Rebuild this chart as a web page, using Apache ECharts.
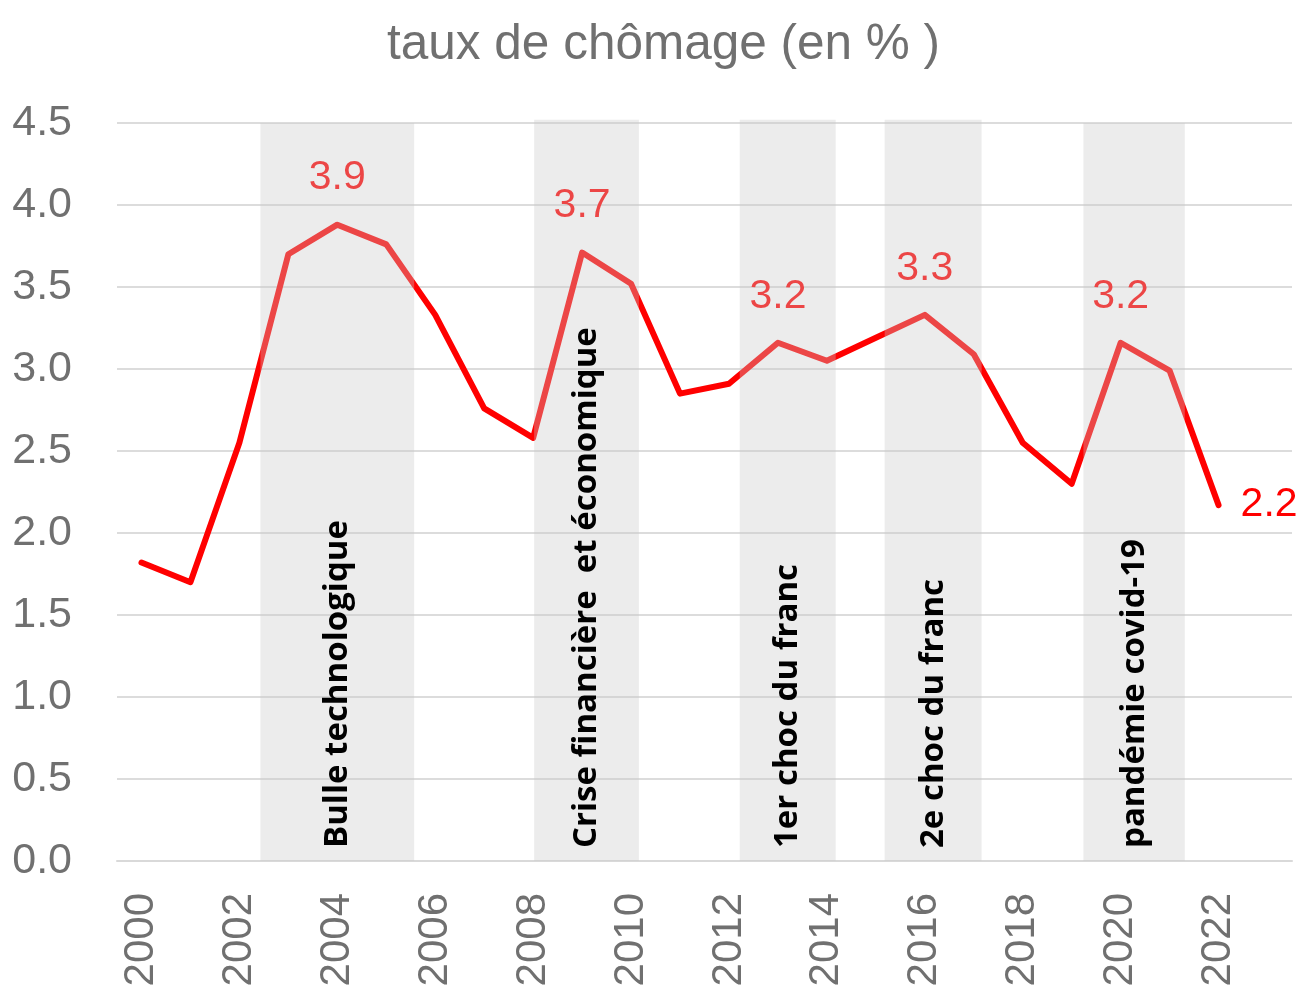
<!DOCTYPE html>
<html>
<head>
<meta charset="utf-8">
<script src="https://cdn.jsdelivr.net/npm/echarts@6/dist/echarts.min.js"></script>
<style>
html,body{margin:0;padding:0;background:#fff;overflow:hidden;}
#chart{width:1303px;height:991px;}
</style>
</head>
<body>
<div id="chart"></div>
<script>
const titleText = 'taux de chômage (en % )';
const years = ['2000','2001','2002','2003','2004','2005','2006','2007','2008','2009','2010','2011',
               '2012','2013','2014','2015','2016','2017','2018','2019','2020','2021','2022','2023'];
const rate = [1.82,1.70,2.55,3.70,3.88,3.76,3.33,2.76,2.58,3.71,3.52,2.85,
              2.91,3.16,3.05,3.19,3.33,3.09,2.55,2.30,3.16,2.99,2.17,null];
const labelledYears = ['2004','2009','2013','2016','2020','2022'];
const yMin = 0, yMax = 4.5, yStep = 0.5;
const bandStart = [2002.43, 2008.02, 2012.22, 2015.18, 2019.24];
const bandEnd   = [2005.57, 2010.16, 2014.18, 2017.16, 2021.31];
const bandTop   = [4.5, 4.52, 4.52, 4.52, 4.5];
const bandLabels = ['Bulle technologique','Crise financière  et économique','1er choc du franc','2e choc du franc','pandémie covid-19'];

const FONT = '"Liberation Sans Narrow","Arial Narrow","Liberation Sans",Arial,sans-serif';
const GREY = '#707070';
const lastLabelled = labelledYears[labelledYears.length - 1];

const lineData = rate.map((v, i) => {
  const item = { value: v };
  if (years[i] === lastLabelled) {
    item.label = { position: 'right', distance: 22 };
  }
  return item;
});

const chart = echarts.init(document.getElementById('chart'), null, { renderer: 'canvas' });
chart.setOption({
  animation: false,
  backgroundColor: '#ffffff',
  title: {
    text: titleText,
    left: 382,
    top: 15,
    textStyle: { fontFamily: FONT, fontSize: 49.5, fontWeight: 'normal', color: GREY }
  },
  grid: { left: 117, right: 11, top: 123, bottom: 130, containLabel: false, outerBoundsMode: 'none' },
  xAxis: [
    {
      type: 'category',
      data: years,
      boundaryGap: true,
      axisLine: { show: true, lineStyle: { color: '#d9d9d9', width: 2 } },
      axisTick: { show: false },
      axisLabel: {
        interval: 1,
        rotate: 90,
        margin: 32,
        fontFamily: FONT,
        fontSize: 42,
        color: GREY
      },
      splitLine: { show: false }
    },
    {
      type: 'value',
      min: 1999.5,
      max: 2023.5,
      show: false,
      splitLine: { show: false }
    }
  ],
  yAxis: {
    type: 'value',
    min: yMin,
    max: yMax,
    interval: yStep,
    axisLine: { show: false },
    axisTick: { show: false },
    axisLabel: {
      margin: 45,
      fontFamily: FONT,
      fontSize: 43,
      color: GREY,
      formatter: v => v.toFixed(1)
    },
    splitLine: { lineStyle: { color: '#dcdcdc', width: 2 } }
  },
  series: [
    {
      type: 'line',
      xAxisIndex: 0,
      data: lineData,
      showSymbol: true,
      symbol: 'circle',
      symbolSize: 0.1,
      itemStyle: { color: '#ff0000' },
      z: 2,
      lineStyle: { color: '#ff0000', width: 6, cap: 'round', join: 'round' },
      label: {
        show: true,
        position: 'top',
        distance: 26,
        fontFamily: FONT,
        fontSize: 41,
        color: '#ff0000',
        formatter: p => (labelledYears.includes(p.name) && p.value != null ? Number(p.value).toFixed(1) : '')
      },
      labelLayout: { hideOverlap: false },
      emphasis: { disabled: true }
    },
    {
      type: 'custom',
      xAxisIndex: 1,
      yAxisIndex: 0,
      z: 5,
      silent: true,
      encode: { x: [0, 1], y: 2 },
      data: bandStart.map((s, i) => [s, bandEnd[i], bandTop[i]]),
      renderItem: function (params, api) {
        const p1 = api.coord([api.value(0), api.value(2)]);
        const p2 = api.coord([api.value(1), 0]);
        return {
          type: 'group',
          children: [
            {
              type: 'rect',
              shape: { x: p1[0], y: p1[1], width: p2[0] - p1[0], height: p2[1] - p1[1] },
              style: { fill: 'rgba(200,200,200,0.35)' }
            },
            {
              type: 'text',
              x: (p1[0] + p2[0]) / 2,
              y: p2[1] - 13,
              rotation: Math.PI / 2,
              z2: 10,
              style: {
                text: bandLabels[params.dataIndex],
                font: 'bold 33px "Open Sans", Lato, sans-serif',
                fill: '#000000',
                align: 'left',
                verticalAlign: 'middle'
              }
            }
          ]
        };
      }
    }
  ]
});
</script>
</body>
</html>
